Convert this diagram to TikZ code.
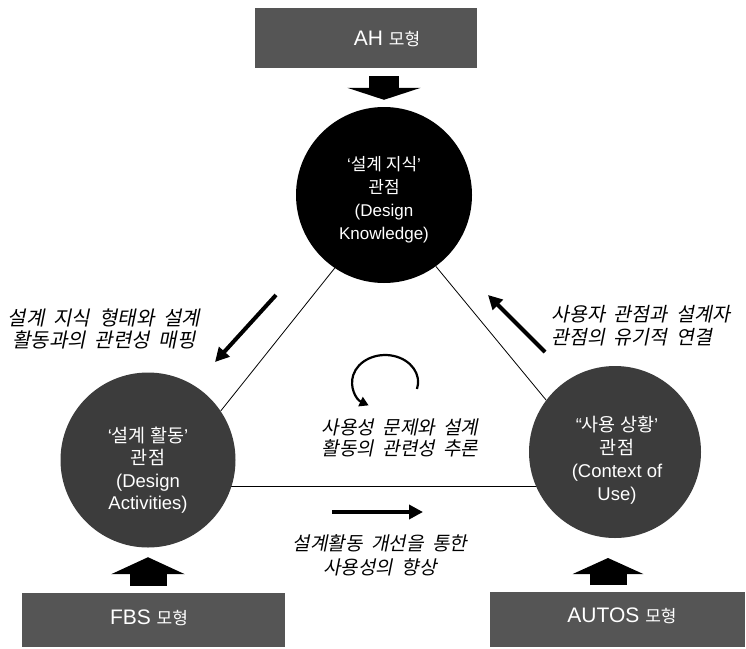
\documentclass[tikz,border=0pt]{standalone}
\usepackage{fontspec}
\setmainfont{Liberation Sans}
\newfontfamily\kr{Noto Sans CJK KR}
\newfontfamily\krit{Noto Sans CJK KR}[FakeSlant=0.2,WordSpace=2.0]
\usetikzlibrary{arrows.meta,backgrounds}
\definecolor{boxgray}{HTML}{555555}
\definecolor{circgray}{HTML}{3C3C3C}
\begin{document}
\begin{tikzpicture}[x=1pt,y=1pt,
  modelbox/.style={fill=boxgray,inner sep=0pt},
  modeltext/.style={text=white,inner sep=0pt,font=\fontsize{21}{24}\selectfont},
  persp/.style={circle,inner sep=0pt},
  ctext/.style={text=white,align=center,inner sep=0pt},
  itext/.style={align=center,inner sep=0pt},
  side/.style={line width=0.8pt},
  thickarrow/.style={line width=4pt,-{Triangle[width=14pt,length=14pt]}},
  loopArrow/.style={line width=2.2pt,-{Triangle[width=10pt,length=9pt]}},
  fat/.style n args={3}{line width=#1,-{Triangle[width=#2,length=#3]}}
]
\useasboundingbox (0,0) rectangle (746,-648);

% model boxes
\node[modelbox,minimum width=222pt,minimum height=60pt] (ahbox) at (366,-38) {};
\node[modeltext] (ahtext) at (387,-39) {AH {\kr\fontsize{17}{20}\selectfont 모형}};
\node[modelbox,minimum width=263pt,minimum height=54pt] (fbsbox) at (153.5,-620) {};
\node[modeltext] (fbstext) at (149,-618) {FBS {\kr\fontsize{17}{20}\selectfont 모형}};
\node[modelbox,minimum width=255pt,minimum height=55pt] (autosbox) at (617.5,-619.5) {};
\node[modeltext] (autostext) at (622,-616) {AUTOS {\kr\fontsize{17}{20}\selectfont 모형}};

% perspective circles
\node[persp,fill=black,minimum size=176pt] (know) at (384,-195) {};
\node[persp,fill=circgray,minimum size=175pt] (act) at (148,-460) {};
\node[persp,fill=circgray,minimum size=172pt] (ctx) at (615,-452) {};

\node[ctext,font=\fontsize{17}{23}\selectfont] (knowtext) at (384,-200)
  {‘{\kr 설계 지식}’\\{\kr 관점}\\(Design\\Knowledge)};
\node[ctext,font=\fontsize{18.5}{22.5}\selectfont] (acttext) at (148,-470)
  {‘{\kr 설계 활동}’\\{\kr 관점}\\(Design\\Activities)};
\node[ctext,font=\fontsize{18.5}{23}\selectfont] (ctxtext) at (617,-460)
  {“{\kr 사용 상황}’\\{\kr 관점}\\(Context of\\Use)};

% triangle sides
\begin{scope}[on background layer]
\draw[side] (know.236) -- (act.34);
\draw[side] (know.306) -- (ctx.143);
\draw[side] ([yshift=-26pt]act.center) -- ([yshift=-26pt]act.center -| ctx.center);
\end{scope}

% block arrows
\draw[fat={30pt}{73pt}{12pt}] ([yshift=-8pt]ahbox.south -| know.north) -- ([yshift=7pt]know.north);
\draw[fat={37pt}{73pt}{17pt}] ([yshift=7pt]fbsbox.north -| act.south) -- ([yshift=-9.5pt]act.south);
\coordinate (autosfrom) at (608,-585);
\coordinate (autosto) at (608,-558);
\draw[fat={37pt}{70pt}{16pt}] (autosfrom) -- (autosto);

% relation arrows
\coordinate (mapfrom) at (276,-295);
\coordinate (mapto) at (215,-362);
\draw[thickarrow] (mapfrom) -- (mapto);
\coordinate (linkfrom) at (545,-352);
\coordinate (linkto) at (488,-295);
\draw[thickarrow] (linkfrom) -- (linkto);
\coordinate (impfrom) at (332,-512);
\coordinate (impto) at (423,-512);
\draw[thickarrow,line width=3.5pt] (impfrom) -- (impto);
\coordinate (loopstart) at (417,-389);
\draw[loopArrow] (loopstart) arc[start angle=-15,end angle=240,x radius=33,y radius=27];

% italic relation labels
\node[itext,font=\krit\fontsize{20}{22}\selectfont] (maptext) at (104,-329)
  {설계 지식 형태와 설계\\활동과의 관련성 매핑};
\node[itext,font=\krit\fontsize{19.5}{23}\selectfont,anchor=west,align=left] (linktext) at (551,-326)
  {사용자 관점과 설계자\\관점의 유기적 연결};
\node[itext,font=\krit\fontsize{19}{21}\selectfont] (infertext) at (400,-438)
  {사용성 문제와 설계\\활동의 관련성 추론};
\node[itext,font=\krit\fontsize{19}{24}\selectfont] (improvetext) at (380,-555)
  {설계활동 개선을 통한\\사용성의 향상};
\end{tikzpicture}
\end{document}
